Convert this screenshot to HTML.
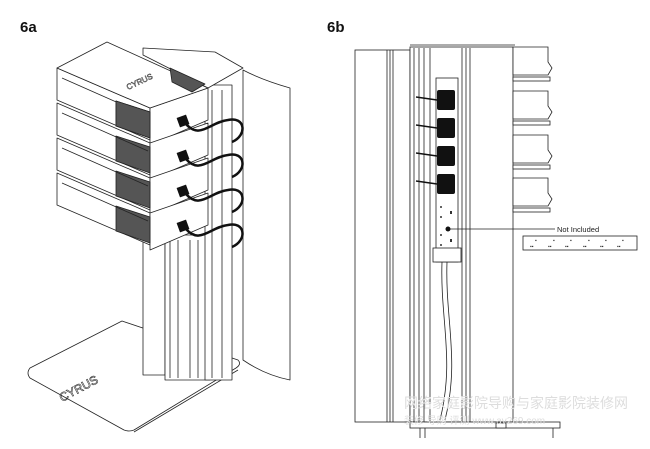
<!DOCTYPE html>
<html><head><meta charset="utf-8"><style>
html,body{margin:0;padding:0;background:#fff;}
svg{display:block;}
text{font-family:"Liberation Sans",Arial,sans-serif;}
</style></head><body>
<svg width="650" height="449" viewBox="0 0 650 449" xmlns="http://www.w3.org/2000/svg">
<rect width="650" height="449" fill="#fff"/>
<text x="20" y="32" font-size="15" font-weight="bold" fill="#111">6a</text>
<text x="327" y="32" font-size="15" font-weight="bold" fill="#111">6b</text>

<g fill="#fff" stroke="#222" stroke-width="0.8" stroke-linejoin="round">
<path d="M243 70 Q262 80 290 88 L290 380 Q265 375 243 360 Z"/>
<path d="M30 368 L122 321 L238 360 Q242 364 236 368 L134 430 Q129 432 124 430 L30 378 Q26 373 30 368 Z"/>
<path d="M134 432 L238 370" />
<rect x="143" y="240" width="22" height="135"/>
<rect x="165" y="235" width="45" height="145"/>
<rect x="205" y="85" width="27" height="295"/>
<line x1="170" y1="240" x2="170" y2="378"/><line x1="178" y1="240" x2="178" y2="378"/>
<line x1="190" y1="240" x2="190" y2="378"/><line x1="198" y1="240" x2="198" y2="378"/>
<line x1="212" y1="90" x2="212" y2="378"/><line x1="222" y1="90" x2="222" y2="378"/>
<path d="M143 48 L215 52 L243 68 L208 88 L143 55 Z"/>
</g>
<text x="62" y="402" font-size="12" fill="none" stroke="#333" stroke-width="0.6" transform="rotate(-28 62 402)">CYRUS</text>

<g stroke="#222" stroke-width="0.8" stroke-linejoin="round">
<g id="u">
<path d="M57 100 L150 140 L150 108 L57 68 Z" fill="#fff"/>
<path d="M150 108 L208 88 L208 120 L150 145 Z" fill="#fff"/>
<path d="M116 101 L150 112 L150 138 L116 126 Z" fill="#555"/>
<line x1="62" y1="78" x2="148" y2="116"/>
</g>
<use href="#u" y="35"/><use href="#u" y="70"/><use href="#u" y="105"/>
<path d="M57 68 L107 42 L208 88 L150 108 Z" fill="#fff"/>
<path d="M170 68 L205 84 L192 92 L172 82 Z" fill="#555"/>
<path d="M116 101 L150 112 L150 138 L116 126 Z" fill="#555"/>
</g>
<text x="128" y="90" font-size="8" fill="none" stroke="#333" stroke-width="0.5" transform="rotate(-25 128 90)">CYRUS</text>
<g fill="none" stroke="#111" stroke-width="2.5">
<path d="M186 124 C200 140 210 122 228 120 C245 116 248 135 232 142"/>
<path d="M186 159 C200 175 210 157 228 155 C245 151 248 170 232 177"/>
<path d="M186 194 C200 210 210 192 228 190 C245 186 248 205 232 212"/>
<path d="M186 229 C200 245 210 227 228 225 C245 221 248 240 232 247"/>
</g>
<g fill="#111"><rect x="178" y="116" width="10" height="10" transform="rotate(-20 183 121)"/>
<rect x="178" y="151" width="10" height="10" transform="rotate(-20 183 156)"/>
<rect x="178" y="186" width="10" height="10" transform="rotate(-20 183 191)"/>
<rect x="178" y="221" width="10" height="10" transform="rotate(-20 183 226)"/></g>

<g fill="#fff" stroke="#222" stroke-width="0.8">
<rect x="355" y="50" width="55" height="372"/>
<line x1="387" y1="50" x2="387" y2="422"/><line x1="390" y1="50" x2="390" y2="422"/><line x1="393" y1="50" x2="393" y2="422"/>
<rect x="410" y="47" width="103" height="375"/>
<line x1="410" y1="45" x2="515" y2="45"/>
<line x1="414" y1="48" x2="414" y2="422"/><line x1="419" y1="48" x2="419" y2="422"/>
<line x1="424" y1="48" x2="424" y2="422"/><line x1="430" y1="48" x2="430" y2="422"/>
<line x1="462" y1="48" x2="462" y2="422"/><line x1="466" y1="48" x2="466" y2="422"/><line x1="470" y1="48" x2="470" y2="422"/>
<rect x="436" y="78" width="22" height="184"/>
<rect x="433" y="248" width="28" height="14"/>
<path d="M442 262 C440 320 455 360 440 420 M447 262 C445 320 460 360 445 420" fill="none"/>
<g id="r"><path d="M513 47 L548 47 L548 62 L552 68 L548 75 L513 75 Z"/><rect x="513" y="77" width="37" height="4"/></g>
<use href="#r" y="44"/><use href="#r" y="88"/><use href="#r" y="131"/>
<rect x="410" y="422" width="150" height="6"/>
<rect x="496" y="423" width="10" height="5"/>
<line x1="420" y1="428" x2="420" y2="438"/><line x1="425" y1="428" x2="425" y2="438"/><line x1="553" y1="428" x2="553" y2="438"/>
<rect x="523" y="236" width="114" height="14"/>
</g>
<g fill="#111">
<rect x="437" y="90" width="18" height="20" rx="2"/><rect x="437" y="118" width="18" height="20" rx="2"/>
<rect x="437" y="146" width="18" height="20" rx="2"/><rect x="437" y="174" width="18" height="20" rx="2"/>
<circle cx="448" cy="229" r="2.5"/>
</g>
<g stroke="#111" stroke-width="1.5" fill="none">
<path d="M416 97 L437 100"/><path d="M416 125 L437 128"/><path d="M416 153 L437 156"/><path d="M416 181 L437 184"/>
</g>
<g fill="#333"><circle cx="441" cy="207" r="1"/><circle cx="441" cy="217" r="1"/><circle cx="441" cy="235" r="1"/><circle cx="441" cy="245" r="1"/>
<rect x="450" y="211" width="2" height="3"/><rect x="450" y="239" width="2" height="3"/></g>
<line x1="450" y1="229" x2="555" y2="229" stroke="#222" stroke-width="0.7"/>
<text x="557" y="232" font-size="7.5" fill="#222">Not Included</text>
<g fill="#333" font-size="5">
<text x="535" y="242">▪</text><text x="553" y="242">▪</text><text x="570" y="242">▪</text><text x="588" y="242">▪</text><text x="605" y="242">▪</text><text x="622" y="242">▪</text>
<text x="530" y="248">▪▪</text><text x="548" y="248">▪▪</text><text x="565" y="248">▪▪</text><text x="583" y="248">▪▪</text><text x="600" y="248">▪▪</text><text x="617" y="248">▪▪</text>
</g>
<text x="404" y="408" font-size="14" fill="#ddd" font-family="Noto Sans CJK SC,sans-serif">网络家庭影院导购与家庭影院装修网</text>
<text x="404" y="424" font-size="10" fill="#ddd" font-family="Noto Sans CJK SC,sans-serif">装修 导购 评测  www.av269.com</text>
</svg>
</body></html>
